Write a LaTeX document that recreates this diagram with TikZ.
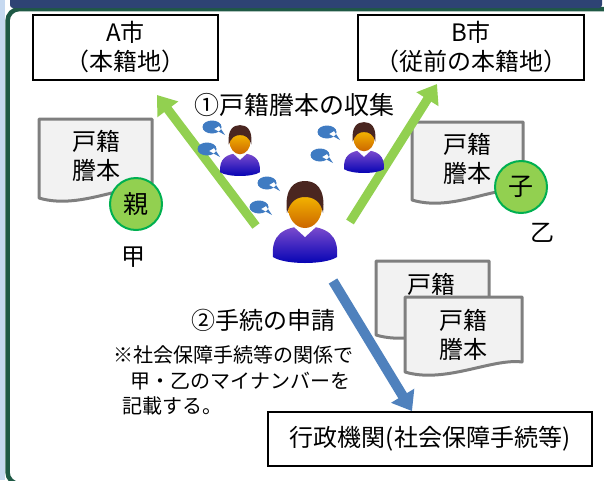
\documentclass[tikz,border=0pt]{standalone}
\usepackage{fontspec}
\setmainfont{Noto Sans CJK JP}
\usetikzlibrary{arrows.meta,calc}

\definecolor{barnavy}{HTML}{2E4374}
\definecolor{framegreen}{HTML}{1F5945}
\definecolor{sideblue}{HTML}{C6D9F0}
\definecolor{leafgreen}{HTML}{92D050}
\definecolor{sealline}{HTML}{00B050}
\definecolor{arrowblue}{HTML}{4F81BD}
\definecolor{bubbleblue}{HTML}{3F7BC2}
\definecolor{docgray}{HTML}{7F7F7F}
\definecolor{docfill}{HTML}{F2F2F2}
\definecolor{hairbrown}{HTML}{4A2620}

\tikzset{
  citybox/.style={draw, line width=1.8pt, align=center, minimum height=65pt,
    font=\fontsize{24}{29}\selectfont},
  paper/.style={draw=docgray, line width=3pt, fill=docfill, line join=round},
  seal/.style={circle, draw=sealline, line width=2pt, fill=leafgreen,
    minimum size=52pt, inner sep=0pt, font=\fontsize{25}{25}\selectfont},
  label/.style={font=\fontsize{24}{29}\selectfont, align=center},
  note/.style={anchor=west, font=\fontsize{20}{20}\selectfont},
  collect/.style={leafgreen, line width=9pt, -{Triangle[width=25pt,length=18pt]}},
  apply/.style={arrowblue, line width=10pt, -{Triangle[width=26pt,length=18pt]}},
}

% 文件（下边为波浪线）
\newcommand\paperdoc[4]{%
  \draw[paper] (#1,#2) -- (#3,#2) -- (#3,#4-10)
    .. controls ($(#3,#4-10)+(-30,-4)$) and ($(#1,#4)+(40,12)$) .. (#1,#4) -- cycle;}
% 人物
\newcommand\person[3]{%
  \begin{scope}[shift={(#1,#2)}, scale=#3]
    \shade[top color=blue!45!violet!70, bottom color=blue!70!black]
      (-32,52) .. controls (-34,30) and (-22,22) .. (0,21)
      .. controls (22,22) and (34,30) .. (32,52)
      .. controls (20,60) and (-20,60) .. (-32,52) -- cycle;
    \fill[white] (-12,21) -- (0,32) -- (12,21) -- cycle;
    \shade[top color=orange!40!yellow, bottom color=orange!80!black] (0,2) ellipse (17 and 21);
    \fill[hairbrown] (-18,8) .. controls (-21,-18) and (-10,-24) .. (0,-24)
      .. controls (10,-24) and (21,-18) .. (18,8)
      .. controls (16,-4) and (8,-8) .. (0,-8)
      .. controls (-8,-8) and (-15,-4) .. (-18,8) -- cycle;
  \end{scope}}
% 对话气泡
\newcommand\bubble[2]{%
  \fill[bubbleblue, shift={(#1,#2)}] (0,0) ellipse (9.5 and 6.5) (2,2) -- (13,8) -- (7,-1) -- cycle;}

\begin{document}
\begin{tikzpicture}[x=1pt, y=-1pt]
  \useasboundingbox (0,0) rectangle (604,480);
  \begin{scope}
    \clip (0,0) rectangle (604,480);
    % 边框
    \fill[sideblue] (0,0) rectangle (5,480);
    \draw[framegreen, line width=4.5pt, rounded corners=12pt] (7.5,9) rectangle (700,484);
    \fill[barnavy, rounded corners=3pt] (10,-5) rectangle (602,8);
  \end{scope}

  % 市
  \node[citybox, minimum width=185pt] (cityA) at (125.5,47.5) {A市\\（本籍地）};
  \node[citybox, minimum width=226pt] (cityB) at (471,47.5) {B市\\（従前の本籍地）};

  % 戸籍謄本（甲・乙）
  \paperdoc{39}{119}{152}{198}
  \node[label] (docA) at (96,156) {戸籍\\謄本};
  \node[seal] (oya) at (136,204) {親};
  \node[label] (kou) at (133,257) {甲};
  \paperdoc{412}{122}{523}{200}
  \node[label] (docB) at (467,159) {戸籍\\謄本};
  \node[seal] (ko) at (521,187) {子};
  \node[label] (otsu) at (542,233) {乙};

  % ① 收集
  \coordinate (la) at (256,226);
  \coordinate (lb) at (157,95);
  \coordinate (ra) at (350,222);
  \coordinate (rb) at (437,84);
  \draw[collect] (la) -- (lb);
  \draw[collect] (ra) -- (rb);
  \node[label, font=\fontsize{25}{25}\selectfont] (step1) at (294,105) {①戸籍謄本の収集};

  \bubble{212}{127}
  \bubble{207}{149}
  \bubble{267}{183}
  \bubble{259}{207}
  \bubble{327}{132}
  \bubble{320}{155}
  \person{240}{140}{0.62}
  \person{364}{137}{0.62}
  \person{305}{205}{1}

  % ② 申请
  \paperdoc{376}{261}{489}{335}
  \node[label] (docC) at (431,284) {戸籍};
  \paperdoc{405}{297}{522}{372}
  \node[label] (docD) at (463,335) {戸籍\\謄本};
  \node[citybox, minimum width=324pt, minimum height=54pt, font=\fontsize{24}{24}\selectfont]
    (office) at (430,439) {行政機関(社会保障手続等)};
  \coordinate (ba) at (333,281);
  \draw[apply] (ba) -- (office.north -| 412,0);
  \node[label, font=\fontsize{24}{24}\selectfont] (step2) at (263,320) {②手続の申請};
  \node[note] (n1) at (110,355) {※社会保障手続等の関係で};
  \node[note] (n2) at (127,381) {甲・乙のマイナンバーを};
  \node[note] (n3) at (119,406) {記載する。};
\end{tikzpicture}
\end{document}
